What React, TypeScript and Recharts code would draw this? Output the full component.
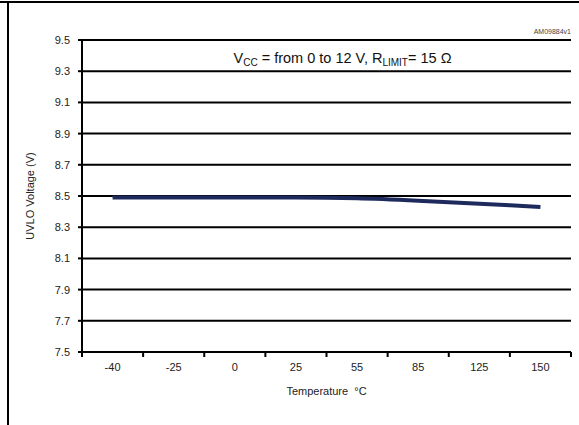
import React from 'react';
import { LineChart, Line, XAxis, YAxis, CartesianGrid, Customized } from 'recharts';

const temperatures = ['-40', '-25', '0', '25', '55', '85', '125', '150'];
const uvloVoltage = [8.49, 8.49, 8.49, 8.49, 8.485, 8.47, 8.45, 8.43];
const yTicks = [7.5, 7.7, 7.9, 8.1, 8.3, 8.5, 8.7, 8.9, 9.1, 9.3, 9.5];
const xBoundaryTicks = [-0.5, 0.5, 1.5, 2.5, 3.5, 4.5, 5.5, 6.5, 7.5];

const data = temperatures.map((t, i) => ({ idx: i, label: t, v: uvloVoltage[i] }));

const W = 579;
const H = 425;
const margin = { top: 40, right: 8, bottom: 23, left: 0 };
const yAxisWidth = 82;
const halfBand = (W - margin.left - margin.right - yAxisWidth) / temperatures.length / 2;
const FONT = '"Liberation Sans", Arial, sans-serif';

const XTick = (props: any) => {
  const { x, y, payload } = props;
  const i = Math.round(payload.value + 0.5);
  if (i >= temperatures.length) return null;
  return (
    <text x={x + halfBand} y={y + 4} dy="0.71em" textAnchor="middle" fontSize={11} fontFamily={FONT} fill="#222">
      {temperatures[i]}
    </text>
  );
};

const Annotation = (props: any) => {
  const off = props.offset || {};
  const left = off.left ?? 82;
  const width = off.width ?? 489;
  const top = off.top ?? 40;
  return (
    <g fontFamily={FONT}>
      <text x={left + width} y={top - 6} textAnchor="end" fontSize={7} fill="#444">AM09884v1</text>
      <text x={left + width / 2 + 16} y={top + 23} textAnchor="middle" fontSize={14.5} fill="#111">
        V<tspan dy={3} fontSize={10}>CC</tspan>
        <tspan dy={-3}> = from 0 to 12 V, R</tspan>
        <tspan dy={3} fontSize={10}>LIMIT</tspan>
        <tspan dy={-3}>= 15 Ω</tspan>
      </text>
    </g>
  );
};

export default function App() {
  return (
    <div style={{ position: 'absolute', left: 0, top: 0, width: W, height: H, background: '#fff' }}>
      <div style={{ position: 'absolute', left: 0, top: 1, width: W, height: 2, background: '#000' }} />
      <div style={{ position: 'absolute', left: 7, top: 1, width: 2, height: H - 1, background: '#000' }} />
      <div style={{ position: 'absolute', left: 0, top: 0 }}>
        <LineChart width={W} height={H} data={data} margin={margin}>
          <CartesianGrid vertical={false} stroke="#000" strokeWidth={2} />
          <XAxis
            dataKey="idx"
            type="number"
            domain={[-0.5, 7.5]}
            ticks={xBoundaryTicks}
            interval={0}
            height={50}
            axisLine={{ stroke: '#000', strokeWidth: 2 }}
            tickLine={{ stroke: '#000', strokeWidth: 2 }}
            tickSize={5}
            tick={<XTick />}
            label={{ value: 'Temperature \u00a0°C', position: 'insideBottom', offset: 7, fontSize: 11, fontFamily: FONT, fill: '#222' }}
          />
          <YAxis
            type="number"
            domain={[7.5, 9.5]}
            ticks={yTicks}
            interval={0}
            width={yAxisWidth}
            axisLine={{ stroke: '#000', strokeWidth: 2 }}
            tickLine={{ stroke: '#000', strokeWidth: 2 }}
            tickSize={4}
            tickMargin={8}
            tick={{ fontSize: 11, fontFamily: FONT, fill: '#222' }}
            tickFormatter={(v: number) => v.toFixed(1)}
            label={{ value: 'UVLO Voltage (V)', angle: -90, position: 'insideLeft', offset: 30, fontSize: 11, fontFamily: FONT, fill: '#222', textAnchor: 'middle' }}
          />
          <Line
            type="monotone"
            dataKey="v"
            stroke="#1f2a5c"
            strokeWidth={4}
            dot={false}
            isAnimationActive={false}
          />
          <Customized component={Annotation} />
        </LineChart>
      </div>
    </div>
  );
}
